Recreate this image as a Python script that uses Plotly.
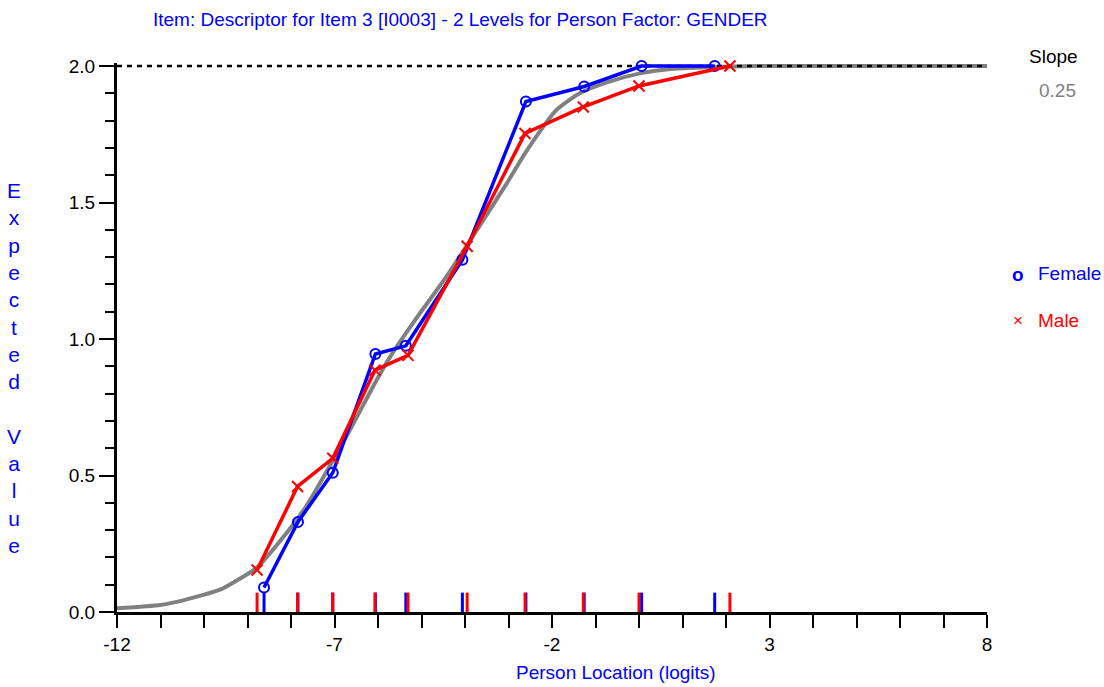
import plotly.graph_objects as go

# ---- data ----
gray_x = [-12, -11.0, -10.6, -10.1, -9.6, -9.2, -8.8, -8.25, -7.64, -7.03, -6.6, -6.1, -5.7,
          -5.1, -4.42, -3.04, -2.58, -1.89, -1.36, -0.74, 0.02, 0.78, 1.93, 2.8, 8]
gray_y = [0.014, 0.026, 0.038, 0.059, 0.084, 0.12, 0.16, 0.26, 0.39, 0.557, 0.68, 0.83, 0.94,
          1.08, 1.23, 1.57, 1.69, 1.84, 1.90, 1.94, 1.973, 1.99, 1.997, 2.0, 2.0]

female_x = [-8.62, -7.84, -7.04, -6.06, -5.36, -4.06, -2.60, -1.26, 0.06, 1.74]
female_y = [0.09, 0.33, 0.51, 0.945, 0.975, 1.29, 1.87, 1.925, 2.0, 2.0]

male_x = [-8.78, -7.85, -7.04, -6.07, -5.31, -3.95, -2.62, -1.28, 0.0, 2.09]
male_y = [0.154, 0.46, 0.563, 0.886, 0.94, 1.34, 1.753, 1.85, 1.927, 2.0]

max_score = 2.0
x_range = [-12, 8]
x_tick_labels = [-12, -7, -2, 3, 8]
y_tick_labels = [0.0, 0.5, 1.0, 1.5, 2.0]
slope_value = "0.25"
title_text = "Item: Descriptor for Item 3 [I0003] - 2 Levels for Person Factor: GENDER"
group_names = ["Female", "Male"]

BLUE = "#0000FF"
RED = "#FF0000"
GRAY = "#808080"
FONT = "Liberation Sans, Arial, sans-serif"

# plot area geometry (pixels)
L, R, T, B = 117, 987, 63, 612
W, H = R - L, B - T


def px(x):
    return (x - L) / W


def py(y):
    return (B - y) / H


fig = go.Figure()

# model curve
fig.add_trace(go.Scatter(x=gray_x, y=gray_y, mode="lines",
                         line=dict(color=GRAY, width=4, shape="spline", smoothing=0.6),
                         showlegend=False, cliponaxis=False, hoverinfo="skip"))
# max score dashed line
fig.add_trace(go.Scatter(x=x_range, y=[max_score, max_score], mode="lines",
                         line=dict(color="black", width=2.5, dash="5px,5px"),
                         showlegend=False, cliponaxis=False, hoverinfo="skip"))
# rug ticks (female then male)
fig.add_trace(go.Scatter(x=female_x, y=[0.03] * len(female_x), mode="markers",
                         marker=dict(symbol="line-ns", size=16, line=dict(color=BLUE, width=3)),
                         showlegend=False, cliponaxis=False, hoverinfo="skip"))
fig.add_trace(go.Scatter(x=male_x, y=[0.03] * len(male_x), mode="markers",
                         marker=dict(symbol="line-ns", size=16, line=dict(color=RED, width=3)),
                         showlegend=False, cliponaxis=False, hoverinfo="skip"))
# observed means
fig.add_trace(go.Scatter(x=female_x, y=female_y, mode="lines+markers", name=group_names[0],
                         line=dict(color=BLUE, width=3.5),
                         marker=dict(symbol="circle-open", size=10, color=BLUE, line=dict(width=2)),
                         showlegend=False, cliponaxis=False))
fig.add_trace(go.Scatter(x=male_x, y=male_y, mode="lines+markers", name=group_names[1],
                         line=dict(color=RED, width=3.5),
                         marker=dict(symbol="x-thin-open", size=11, color=RED, line=dict(width=2, color=RED)),
                         showlegend=False, cliponaxis=False))

fig.update_xaxes(range=x_range, tickvals=x_tick_labels, ticktext=[str(v) for v in x_tick_labels],
                 showline=True, linewidth=3, linecolor="black", mirror=False,
                 ticks="outside", ticklen=13, tickwidth=2, tickcolor="black",
                 minor=dict(dtick=1, tick0=-12, ticks="outside", ticklen=13, tickwidth=2, tickcolor="black"),
                 showgrid=False, zeroline=False,
                 tickfont=dict(family=FONT, size=19, color="black"))
fig.update_yaxes(range=[0, 2.011], tickvals=y_tick_labels, ticktext=[f"{v:.1f}" for v in y_tick_labels],
                 showline=True, linewidth=3, linecolor="black",
                 ticks="outside", ticklen=15, tickwidth=2, tickcolor="black",
                 minor=dict(dtick=0.1, tick0=0, ticks="outside", ticklen=9, tickwidth=2, tickcolor="black"),
                 showgrid=False, zeroline=False,
                 tickfont=dict(family=FONT, size=19, color="black"))

ylabel = "<br>".join(list("Expected") + [" "] + list("Value"))


def ann(text, x, y, color, size=19, anchor="center"):
    return dict(text=text, x=px(x), y=py(y), xref="paper", yref="paper", showarrow=False,
                xanchor=anchor, yanchor="middle", font=dict(family=FONT, size=size, color=color))


annotations = [
    ann(title_text, 460, 20, BLUE),
    ann("Person Location (logits)", 616, 672, BLUE),
    ann(ylabel, 14, 367.5, BLUE, size=21),
    ann("Slope", 1053, 57, "black"),
    ann(slope_value, 1057, 90, GRAY),
    ann("<b>o</b>", 1018, 274, BLUE),
    ann(group_names[0], 1036, 273, BLUE, anchor="left"),
    ann("×", 1018, 320, RED, size=17),
    ann(group_names[1], 1036, 320, RED, anchor="left"),
]

fig.update_layout(width=1104, height=687, margin=dict(l=L, r=1104 - R, t=T, b=687 - B),
                  plot_bgcolor="white", paper_bgcolor="white",
                  annotations=annotations, showlegend=False,
                  font=dict(family=FONT))

fig.write_html("out.html")
